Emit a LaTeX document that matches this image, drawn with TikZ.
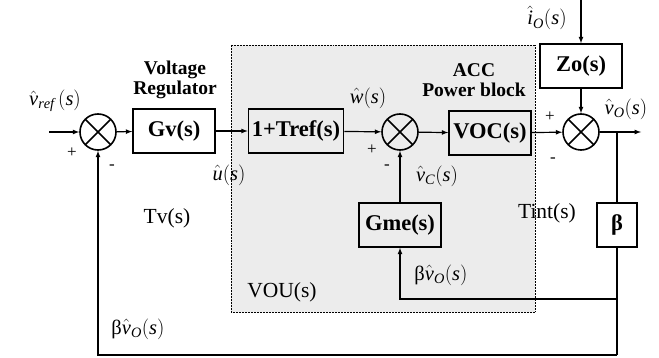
\documentclass[tikz,border=0pt]{standalone}
\usepackage{amsmath}
\usepackage{mathspec}
\setmainfont{Liberation Serif}
\setmathsfont(Digits,Latin,Greek){Liberation Serif}
\usetikzlibrary{arrows, calc, positioning}

\begin{document}
\begin{tikzpicture}[x=1pt,y=-1pt,line width=1.2pt,>=latex,
    font=\fontsize{21.5}{23}\selectfont,
    block/.style={draw,line width=1.6pt,minimum width=82pt,minimum height=44pt,inner sep=1pt,font=\fontsize{22.5}{24}\selectfont\bfseries},
    sumnode/.style={circle,draw,line width=1.6pt,minimum size=36pt,inner sep=0pt,
      path picture={\draw[line width=1.6pt] (path picture bounding box.north west) -- (path picture bounding box.south east)
        (path picture bounding box.north east) -- (path picture bounding box.south west);}},
    head/.style={align=center,font=\fontsize{19.5}{20}\selectfont\bfseries},
    mlabel/.style={font=\fontsize{20.5}{21}\selectfont},
    sign/.style={font=\fontsize{17}{17}\selectfont} ]
    \useasboundingbox (0,0) rectangle (659,358);
    % VOU area
    \draw [densely dotted, line width=0.5pt, fill=gray!15] (231,45) rectangle (535,312);
    \node at (98,132) [sumnode] (s1) {};
    \node at (174,131) [block] (gv) {Gv(s)};
    \node at (296,131) [block,minimum width=95pt] (tref) {1+Tref(s)};
    \node at (400,132) [sumnode] (s2) {};
    \node at (490,133) [block] (voc) {VOC(s)};
    \node at (581,132) [sumnode] (s3) {};
    \node at (581,66) [block] (zo) {Zo(s)};
    \node at (400,225) [block] (gme) {Gme(s)};
    \node at (617,225) [block,minimum width=40pt] (beta) {β};
    \coordinate (vin) at (49,132);
    \coordinate (io) at (581,0);
    \coordinate (vout) at (641,132);
    \coordinate (br) at (617,132);
    \coordinate (fb1) at (617,299);
    \coordinate (fb2) at (617,355);
    % forward path
    \draw [->] (vin) to (s1);
    \draw [->] (s1) to (gv);
    \draw [->] (gv) to (tref);
    \draw [->] (tref) to (s2);
    \draw [->] (s2) to (voc);
    \draw [->] (voc) to (s3);
    \draw [->] (io) to (zo);
    \draw [->] (zo) to (s3);
    \draw [->] (s3) to (vout);
    \draw [-] (br) to (beta);
    \draw [-] (beta) to (fb2);
    % feedback loops
    \draw [->] (fb1) -| (gme);
    \draw [->] (gme) to (s2);
    \draw [->] (fb2) -| (s1);
    % labels
    \node at (55,101) [mlabel] (lvref) {$\hat{v}_{ref}\,(s)$};
    \node at (175,80) [head] (lvr) {Voltage\\Regulator};
    \node at (474,80) [head] (lacc) {ACC\\Power block};
    \node at (229,175) [mlabel] (lu) {$\hat{u}(s)$};
    \node at (368,98) [mlabel] (lw) {$\hat{w}(s)$};
    \node at (437,176) [mlabel] (lvc) {$\hat{v}_C(s)$};
    \node at (547,18) [mlabel] (lio) {$\hat{i}_O(s)$};
    \node at (626,109) [mlabel] (lvo) {$\hat{v}_O(s)$};
    \node at (441,275) [mlabel] (lbi) {β$\hat{v}_O(s)$};
    \node at (138,329) [mlabel] (lbo) {β$\hat{v}_O(s)$};
    \node at (167,218) (ltv) {Tv(s)};
    \node at (547,213) (ltint) {Tint(s)};
    \node at (282,292) (lvou) {VOU(s)};
    \node at (72,153) [sign] (p1) {+};
    \node at (112,167) [sign] (m1) {-};
    \node at (372,150) [sign] (p2) {+};
    \node at (387,167) [sign] (m2) {-};
    \node at (550,117) [sign] (p3) {+};
    \node at (553,160) [sign] (m3) {-};
\end{tikzpicture}
\end{document}
